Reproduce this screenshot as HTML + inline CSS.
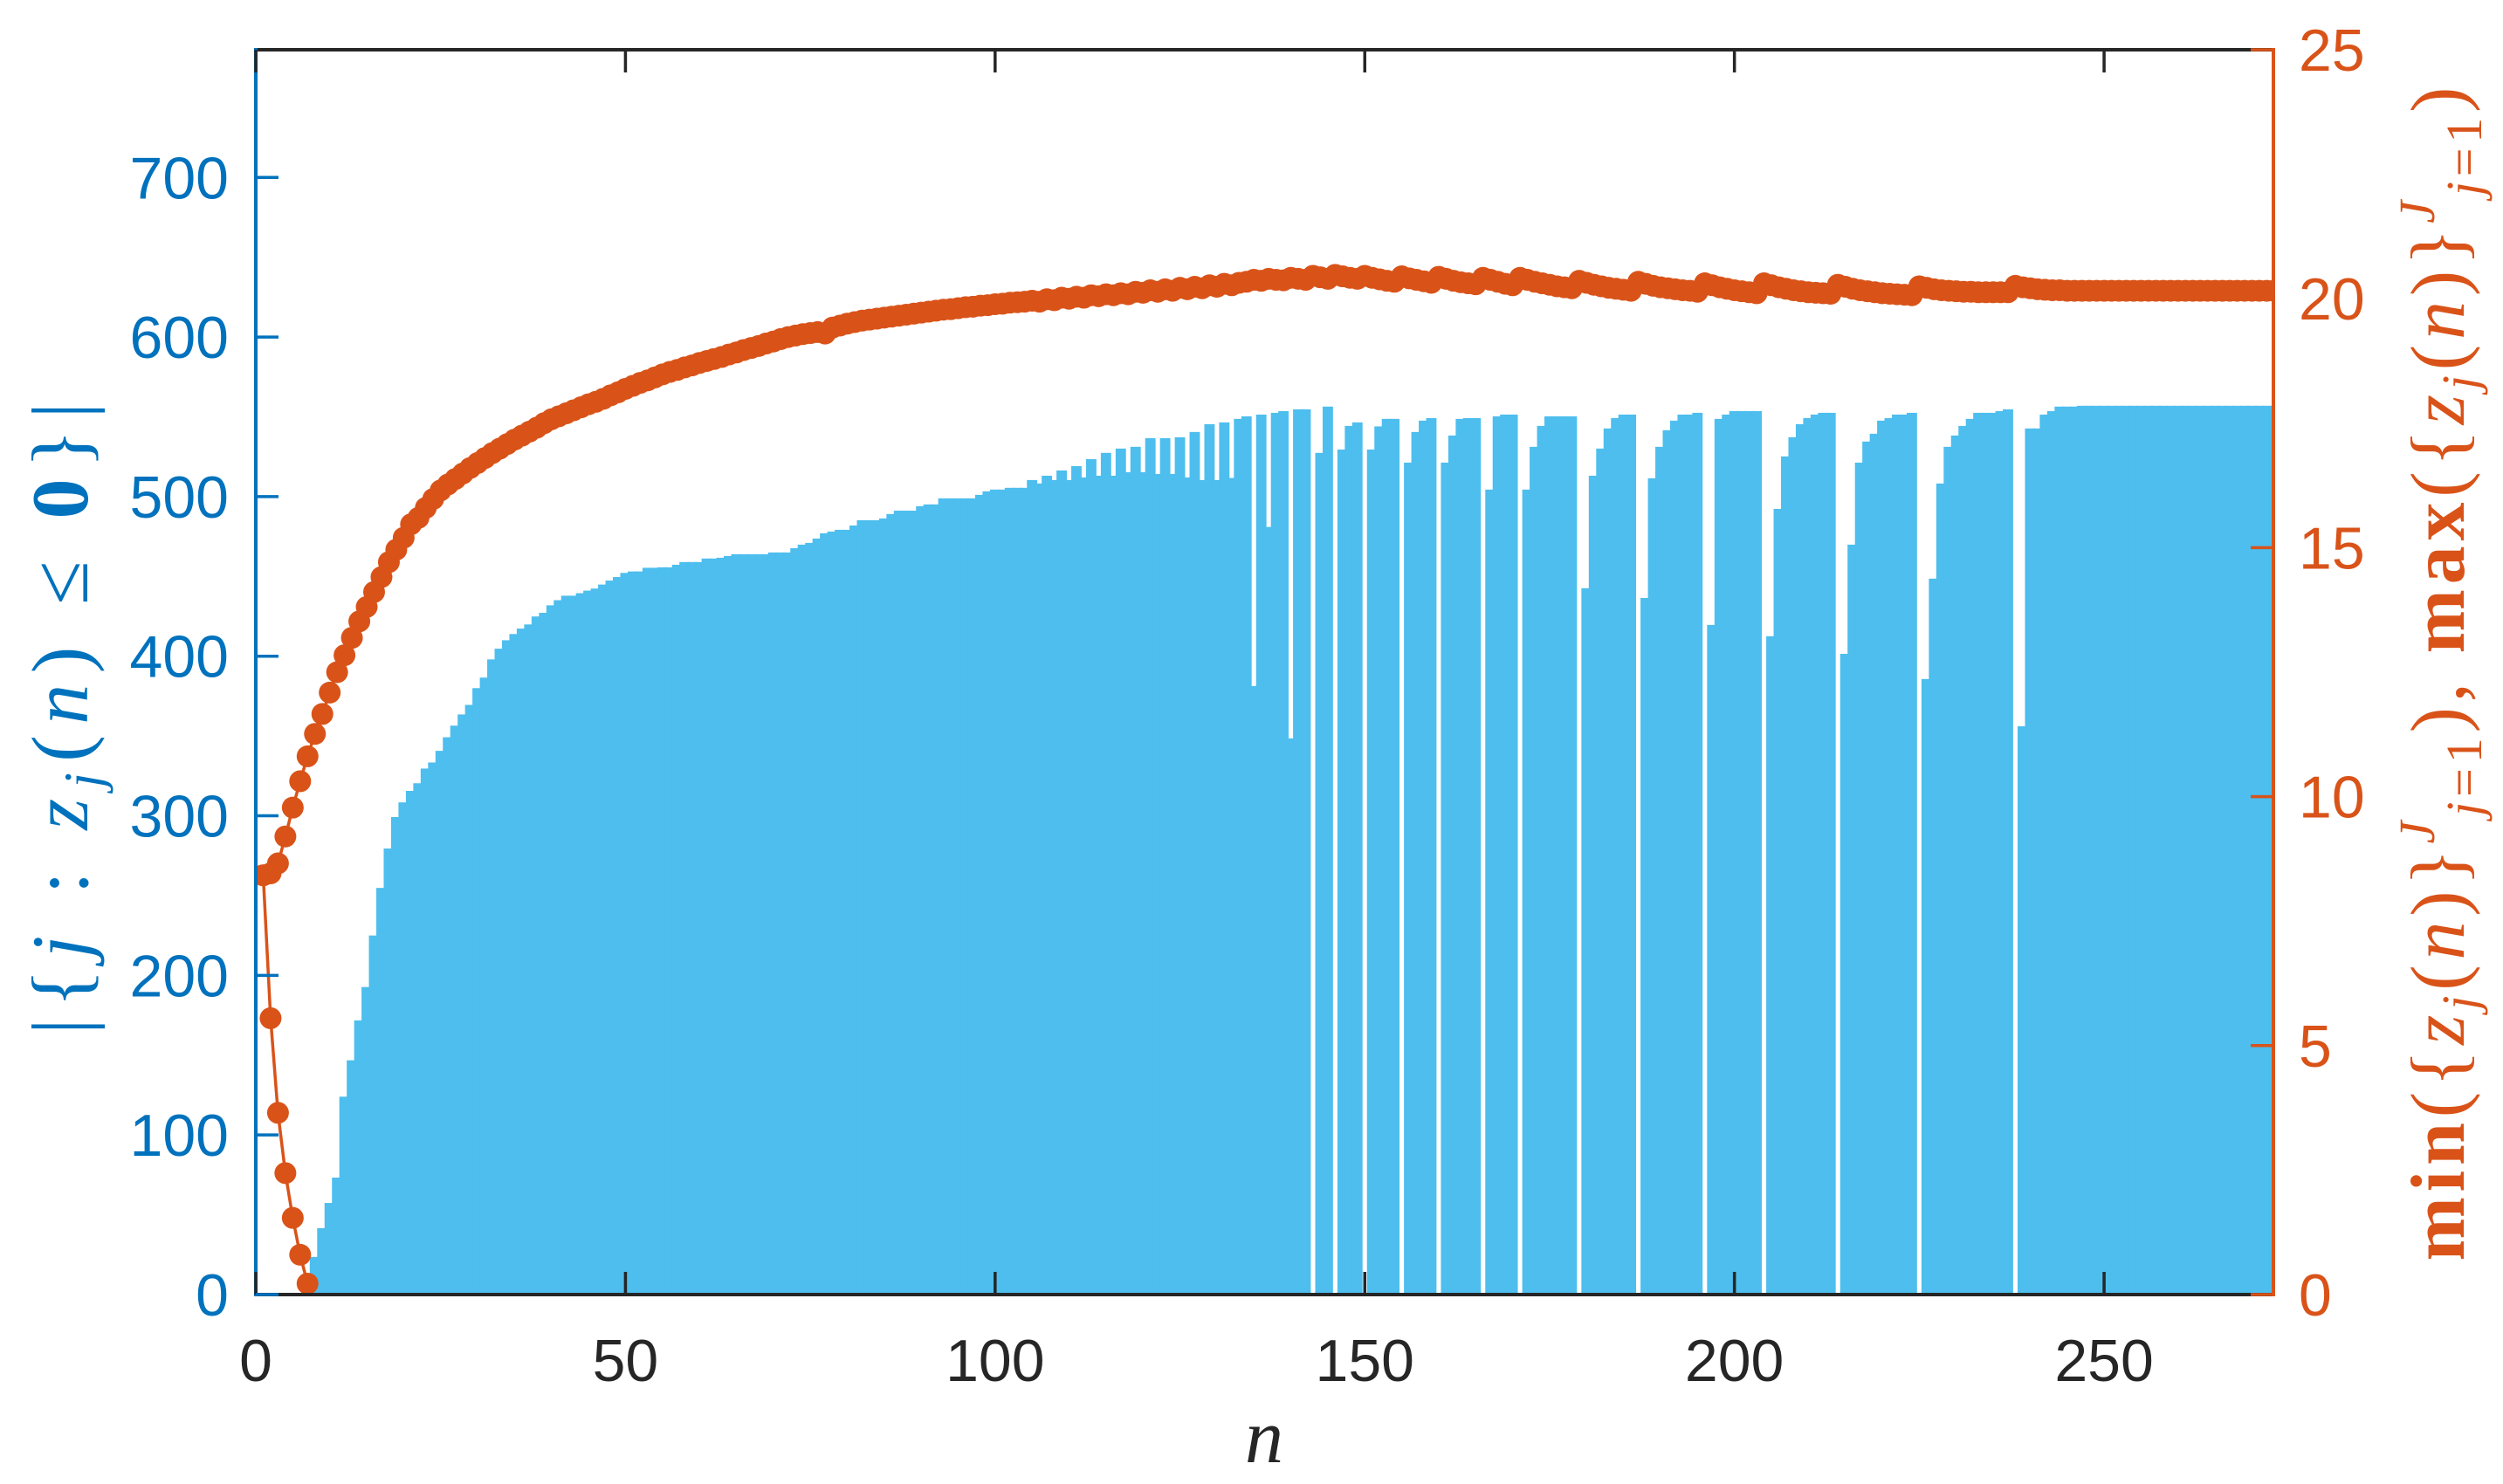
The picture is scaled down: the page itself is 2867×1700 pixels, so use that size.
<!DOCTYPE html>
<html><head><meta charset="utf-8">
<style>
html,body{margin:0;padding:0;background:#fff;}
svg{display:block;}
</style></head>
<body>
<svg id="chart" xmlns="http://www.w3.org/2000/svg" width="2867" height="1700" viewBox="0 0 2867 1700">
<defs><clipPath id="plotclip"><rect x="293" y="57" width="2311" height="1426"/></clipPath></defs>
<rect x="0" y="0" width="2867" height="1700" fill="#fff"/>
<g id="bars" clip-path="url(#plotclip)"></g>
<g id="orange" clip-path="url(#plotclip)"></g>
<g id="axes"></g>
<text x="1448" y="1675" text-anchor="middle" font-family="'Liberation Serif',serif" font-style="italic" font-size="88" fill="#262626">n</text>
<text transform="translate(100,823) rotate(-90)" text-anchor="middle" font-family="'Liberation Serif',serif" font-size="92" fill="#0072BD" textLength="724" lengthAdjust="spacing">|{<tspan font-style="italic">j</tspan> : <tspan font-style="italic">z</tspan><tspan font-style="italic" font-size="62" dy="16">j</tspan><tspan dy="-16">(</tspan><tspan font-style="italic">n</tspan>) ≤ <tspan font-weight="bold">0</tspan>}|</text>
<text transform="translate(2822,772) rotate(-90)" text-anchor="middle" font-family="'Liberation Serif',serif" font-size="88" fill="#D95319" textLength="1345" lengthAdjust="spacing"><tspan font-weight="bold">min</tspan>({<tspan font-style="italic">z</tspan><tspan font-style="italic" font-size="58" dy="15">j</tspan><tspan dy="-15">(</tspan><tspan font-style="italic">n</tspan>)}<tspan font-size="58" dy="-34" font-style="italic">J</tspan><tspan font-size="58" dy="54"><tspan font-style="italic">j</tspan>=1</tspan><tspan dy="-20">), </tspan><tspan font-weight="bold">max</tspan>({<tspan font-style="italic">z</tspan><tspan font-style="italic" font-size="58" dy="15">j</tspan><tspan dy="-15">(</tspan><tspan font-style="italic">n</tspan>)}<tspan font-size="58" dy="-34" font-style="italic">J</tspan><tspan font-size="58" dy="54"><tspan font-style="italic">j</tspan>=1</tspan><tspan dy="-20">)</tspan></text>
</svg>
<script>
var barCounts = [
0,0,0,0,0,0,0,23.6,41.6,57.4,
73.3,124,146.8,171.8,192.7,225,254.8,279.5,299.2,308.4,
315.6,320.4,329.6,333.4,340.7,349.2,356.5,363.5,369.5,380,
386.6,398,404.7,410,413.9,417.3,419.9,424.9,427.2,431.9,
435.1,437.9,437.9,439.5,441.1,442.4,444.9,447.4,449.6,452.2,
453.1,453.1,455.4,455.4,455.7,455.7,457.3,459,459,459,
461.2,461.2,461.7,462.8,463.9,463.9,463.9,463.9,463.9,465,
465,465,467.7,469.9,471,473.7,477,478.1,479.2,479.2,
481.9,485.2,485.2,485.2,486.3,489.1,491.2,491.2,491.2,494,
495.1,495.1,498.9,498.9,498.9,498.9,498.9,501.1,503.3,504.4,
504.4,505.5,505.5,505.5,510.4,508.2,513.1,510.4,516.4,510.4,
519.1,512,523.5,513.1,527.4,513.1,530.1,515.3,531.2,515.3,
536.6,514.2,536.6,514.2,537.2,512,540.5,510.4,545.4,510.4,
546.5,511.7,548.7,550.3,381.3,551.4,481,552.5,553.6,348.5,
554.7,554.7,0,527.4,556.4,0,529.5,544.3,546.5,0,
529.5,544,548.7,548.7,0,521.3,540.5,547.6,549.2,0,
521.3,538.3,548.7,549.2,549.2,0,504.4,550.3,551.4,551.4,
0,504.4,531.2,544.3,550.3,550.3,550.3,550.3,0,442.6,
513.1,530.1,542.7,549.2,551.4,551.4,0,436.5,511.5,531.2,
541.6,547.6,551.4,551.4,552.5,0,419.6,548.7,551.4,553.6,
553.6,553.6,553.6,0,412.5,492.3,525.2,537.2,545.4,549.2,
551.4,552.5,552.5,0,401.5,469.9,521.3,534.5,539.4,547.6,
549.2,551.4,551.4,552.5,0,385.7,448.6,508.2,531.2,538.3,
544.3,548.7,552.5,552.5,552.5,553.6,554.7,0,356.1,542.7,
542.7,551.4,553.6,556.4,556.4,556.4,556.9,556.9,556.9,556.9,
556.9,556.9,556.9,556.9,556.9,556.9,556.9,556.9,556.9,556.9,
556.9,556.9,556.9,556.9,556.9,556.9,556.9,556.9,556.9,556.9,
556.9,556.9,556.9
];
var maxValues = [
8.42,8.46,8.66,9.20,9.78,10.31,10.81,11.26,11.66,12.09,
12.50,12.84,13.19,13.52,13.81,14.11,14.41,14.71,14.96,15.20,
15.47,15.60,15.80,15.98,16.15,16.27,16.38,16.49,16.60,16.70,
16.80,16.90,16.99,17.08,17.17,17.25,17.33,17.41,17.50,17.58,
17.64,17.70,17.76,17.82,17.88,17.93,17.99,18.06,18.12,18.19,
18.25,18.31,18.36,18.42,18.48,18.53,18.57,18.62,18.66,18.71,
18.75,18.79,18.83,18.88,18.92,18.97,19.01,19.05,19.10,19.14,
19.19,19.23,19.26,19.29,19.31,19.33,19.30,19.42,19.46,19.50,
19.53,19.56,19.58,19.60,19.62,19.64,19.66,19.68,19.70,19.72,
19.74,19.76,19.78,19.79,19.81,19.83,19.84,19.86,19.87,19.89,
19.90,19.92,19.93,19.94,19.96,19.94,19.99,19.97,20.02,20.00,
20.04,20.02,20.07,20.05,20.09,20.07,20.11,20.09,20.14,20.12,
20.17,20.14,20.19,20.16,20.22,20.19,20.24,20.21,20.27,20.24,
20.30,20.27,20.32,20.34,20.38,20.36,20.40,20.38,20.37,20.42,
20.40,20.38,20.46,20.43,20.40,20.48,20.45,20.42,20.40,20.46,
20.42,20.39,20.36,20.34,20.45,20.41,20.38,20.35,20.32,20.44,
20.40,20.36,20.33,20.31,20.29,20.42,20.38,20.34,20.30,20.27,
20.42,20.38,20.34,20.31,20.28,20.25,20.23,20.21,20.36,20.32,
20.28,20.25,20.22,20.20,20.18,20.16,20.34,20.30,20.26,20.23,
20.21,20.19,20.17,20.16,20.14,20.31,20.27,20.23,20.20,20.17,
20.15,20.13,20.11,20.31,20.27,20.23,20.20,20.17,20.15,20.13,
20.12,20.11,20.10,20.28,20.24,20.20,20.17,20.15,20.13,20.11,
20.10,20.09,20.08,20.07,20.25,20.22,20.19,20.17,20.16,20.15,
20.14,20.14,20.13,20.13,20.13,20.13,20.13,20.26,20.23,20.21,
20.19,20.18,20.17,20.17,20.16,20.16,20.16,20.16,20.16,20.16,
20.16,20.16,20.16,20.16,20.16,20.16,20.16,20.16,20.16,20.16,
20.16,20.16,20.16,20.16,20.16,20.16,20.16,20.16,20.16,20.16,
20.16,20.16,20.16
];
var minValues = [8.42,5.55,3.65,2.44,1.54,0.80,0.22];
var xTicks = [0,50,100,150,200,250];
var leftTicks = [0,100,200,300,400,500,600,700];
var rightTicks = [0,5,10,15,20,25];

var NS = 'http://www.w3.org/2000/svg';
var PX0 = 293, PX1 = 2604, PY0 = 1483, PY1 = 57;
var XMAX = 272.9, LMAX = 780, RMAX = 25;
function X(n){ return PX0 + n / XMAX * (PX1 - PX0); }
function YL(v){ return PY0 - v / LMAX * (PY0 - PY1); }
function YR(v){ return PY0 - v / RMAX * (PY0 - PY1); }
function mk(tag, attrs, parent){
  var e = document.createElementNS(NS, tag);
  for (var k in attrs) e.setAttribute(k, attrs[k]);
  parent.appendChild(e);
  return e;
}
var BLUE_BAR = '#4DBEEE', BLUE = '#0072BD', ORANGE = '#D95319', DARK = '#262626';

var gb = document.getElementById('bars');
barCounts.forEach(function(v, i){
  if (v <= 0) return;
  var n = i + 1;
  var x0 = X(n - 0.7), x1 = X(n + 0.7);
  var r = mk('rect', {x: x0, y: YL(v), width: x1 - x0, height: YL(0) - YL(v), fill: BLUE_BAR}, gb);
  
  
});

var go = document.getElementById('orange');
function series(vals, name){
  var pts = vals.map(function(v, i){ return X(i + 1).toFixed(2) + ',' + YR(v).toFixed(2); }).join(' ');
  var pl = mk('polyline', {points: pts, fill: 'none', stroke: ORANGE, 'stroke-width': 3.5}, go);
  
  
  vals.forEach(function(v, i){
    var c = mk('circle', {cx: X(i + 1), cy: YR(v), r: 12.5, fill: ORANGE}, go);
    
    
  });
}
series(maxValues, 'max-series');
series(minValues, 'min-series');

var ga = document.getElementById('axes');
var TL = 26, FS = 68, FONT = "'Liberation Sans',Arial,sans-serif";
var t = mk('line', {x1: PX0, y1: PY1, x2: PX1, y2: PY1, stroke: DARK, 'stroke-width': 4}, ga);
 
var b = mk('line', {x1: PX0, y1: PY0, x2: PX1, y2: PY0, stroke: DARK, 'stroke-width': 4}, ga);
 
var l = mk('line', {x1: PX0, y1: PY1 - 2, x2: PX0, y2: PY0 + 2, stroke: BLUE, 'stroke-width': 4}, ga);
 
var rr = mk('line', {x1: PX1, y1: PY1 - 2, x2: PX1, y2: PY0 + 2, stroke: ORANGE, 'stroke-width': 4}, ga);
 

xTicks.forEach(function(v){
  var x = X(v);
  var a = mk('line', {x1: x, y1: PY0, x2: x, y2: PY0 - TL, stroke: DARK, 'stroke-width': 3.5}, ga);
   
  var a2 = mk('line', {x1: x, y1: PY1, x2: x, y2: PY1 + TL, stroke: DARK, 'stroke-width': 3.5}, ga);
   
  var tx = mk('text', {x: x, y: 1582, 'text-anchor': 'middle', 'font-family': FONT, 'font-size': FS, fill: DARK}, ga);
  tx.textContent = String(v);
   
});
leftTicks.forEach(function(v){
  var y = YL(v);
  var a = mk('line', {x1: PX0, y1: y, x2: PX0 + TL, y2: y, stroke: BLUE, 'stroke-width': 3.5}, ga);
   
  var tx = mk('text', {x: 262, y: y + 24, 'text-anchor': 'end', 'font-family': FONT, 'font-size': FS, fill: BLUE}, ga);
  tx.textContent = String(v);
   
});
rightTicks.forEach(function(v){
  var y = YR(v);
  var a = mk('line', {x1: PX1, y1: y, x2: PX1 - TL, y2: y, stroke: ORANGE, 'stroke-width': 3.5}, ga);
   
  var tx = mk('text', {x: 2633, y: y + 24, 'text-anchor': 'start', 'font-family': FONT, 'font-size': FS, fill: ORANGE}, ga);
  tx.textContent = String(v);
   
});
</script>
</body></html>
